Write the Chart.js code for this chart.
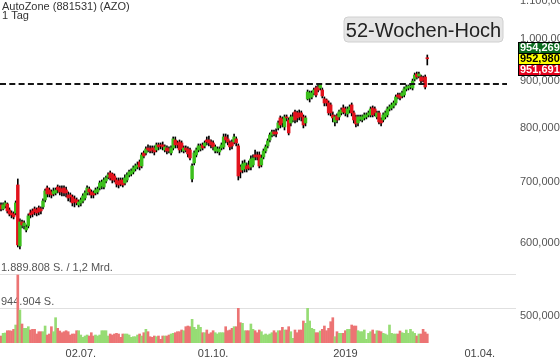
<!DOCTYPE html>
<html>
<head>
<meta charset="utf-8">
<script src="https://cdn.jsdelivr.net/npm/chart.js@4.4.1/dist/chart.umd.min.js"></script>
<style>
  html, body { margin: 0; padding: 0; background: #fff; }
  #chart { display: block; }
</style>
</head>
<body>
<canvas id="chart" width="560" height="363"></canvas>
<script>
// daily candles, AutoZone (AZO), index 0 = first trading day shown
const openP = [
  660.4, 653.8, 658.7, 662.0, 652.2, 647.3, 645.7, 647.3, 694.2, 596.0,
  632.9, 626.6, 620.3, 626.6, 647.3, 650.6, 653.8, 652.2, 655.5, 653.8,
  657.1, 668.7, 689.0, 685.6, 682.2, 678.8, 680.5, 690.7, 689.0, 687.3,
  689.0, 685.6, 677.1, 677.1, 673.7, 670.4, 668.7, 660.4, 663.7, 667.0,
  672.0, 680.5, 687.3, 682.2, 680.5, 680.5, 682.2, 689.0, 692.5, 690.7,
  701.2, 708.2, 715.4, 713.6, 710.0, 702.9, 701.2, 702.9, 702.9, 697.7,
  702.9, 711.8, 713.6, 717.1, 722.6, 726.2, 735.3, 728.0, 752.1, 752.1,
  761.5, 759.6, 761.5, 761.5, 757.7, 767.3, 767.3, 767.3, 757.7, 761.5,
  759.6, 752.1, 761.5, 776.9, 771.1, 773.0, 771.1, 755.8, 761.5, 759.6,
  757.7, 704.7, 733.5, 748.3, 757.7, 759.6, 767.3, 765.4, 776.9, 776.9,
  773.0, 771.1, 755.8, 755.8, 754.0, 761.5, 763.5, 782.8, 778.9, 771.1,
  773.0, 773.0, 778.9, 765.4, 726.2, 720.7, 722.6, 728.0, 729.8, 726.2,
  729.8, 748.3, 748.3, 748.3, 729.8, 744.6, 755.8, 765.4, 776.9, 786.7,
  792.6, 792.6, 800.6, 820.9, 818.8, 802.6, 822.9, 816.7, 810.6, 816.7,
  833.3, 831.2, 831.2, 831.2, 822.9, 810.6, 860.8, 862.9, 865.1, 873.7,
  884.7, 886.9, 884.7, 880.3, 860.8, 858.6, 852.2, 848.0, 827.0, 812.7,
  825.0, 822.9, 831.2, 841.6, 839.5, 829.1, 837.4, 848.0, 831.2, 822.9,
  810.6, 818.8, 816.7, 820.9, 822.9, 827.0, 827.0, 841.6, 839.5, 822.9,
  831.2, 816.7, 816.7, 822.9, 827.0, 839.5, 841.6, 845.9, 852.2, 869.4,
  869.4, 867.2, 869.4, 882.5, 884.7, 886.9, 884.7, 904.8, 916.2, 911.6,
  909.4, 907.1, 909.4, 954.3
];
const highP = [
  663.7, 663.7, 667.0, 663.7, 655.5, 650.6, 649.0, 667.0, 704.7, 637.7,
  636.0, 634.5, 628.2, 645.7, 652.2, 653.8, 657.1, 655.5, 658.7, 657.1,
  670.4, 687.3, 692.5, 689.0, 685.6, 689.0, 689.0, 694.2, 692.5, 692.5,
  692.5, 690.7, 682.2, 680.5, 677.1, 675.4, 672.0, 668.7, 672.0, 678.8,
  683.9, 692.5, 690.7, 685.6, 683.9, 689.0, 690.7, 701.2, 702.9, 706.5,
  710.0, 715.4, 718.9, 715.4, 713.6, 706.5, 706.5, 706.5, 706.5, 711.8,
  715.4, 720.7, 722.6, 728.0, 731.7, 735.3, 739.0, 752.1, 755.8, 763.5,
  767.3, 765.4, 765.4, 765.4, 771.1, 771.1, 771.1, 773.0, 767.3, 765.4,
  763.5, 765.4, 782.8, 782.8, 775.0, 776.9, 775.0, 765.4, 765.4, 763.5,
  761.5, 731.7, 755.8, 761.5, 769.2, 769.2, 771.1, 775.0, 782.8, 784.7,
  776.9, 775.0, 767.3, 763.5, 763.5, 771.1, 788.6, 788.6, 786.7, 775.0,
  776.9, 788.6, 782.8, 769.2, 729.8, 737.2, 739.0, 733.5, 737.2, 746.5,
  748.3, 757.7, 754.0, 754.0, 748.3, 759.6, 767.3, 778.9, 790.6, 796.5,
  796.5, 798.6, 814.7, 825.0, 822.9, 827.0, 827.0, 820.9, 827.0, 831.2,
  837.4, 835.3, 837.4, 835.3, 827.0, 825.0, 880.3, 878.1, 878.1, 884.7,
  889.1, 891.4, 893.6, 884.7, 865.1, 860.8, 856.5, 852.2, 833.3, 827.0,
  829.1, 837.4, 841.6, 848.0, 843.8, 843.8, 848.0, 852.2, 835.3, 827.0,
  827.0, 827.0, 827.0, 831.2, 831.2, 835.3, 843.8, 845.9, 843.8, 835.3,
  835.3, 820.9, 831.2, 835.3, 843.8, 848.0, 852.2, 856.5, 869.4, 873.7,
  873.7, 878.1, 886.9, 891.4, 891.4, 891.4, 904.8, 918.5, 920.8, 920.8,
  913.9, 911.6, 913.9, 960.8
];
const lowP = [
  650.6, 652.2, 655.5, 647.3, 642.5, 639.3, 637.7, 644.1, 594.5, 591.6,
  623.5, 621.9, 617.3, 623.5, 639.3, 640.9, 644.1, 642.5, 644.1, 645.7,
  653.8, 665.3, 673.7, 673.7, 672.0, 675.4, 677.1, 680.5, 677.1, 675.4,
  675.4, 673.7, 667.0, 665.3, 658.7, 657.1, 660.4, 657.1, 658.7, 663.7,
  668.7, 677.1, 677.1, 672.0, 672.0, 677.1, 678.8, 685.6, 687.3, 687.3,
  697.7, 704.7, 702.9, 697.7, 699.4, 690.7, 689.0, 692.5, 690.7, 694.2,
  699.4, 708.2, 710.0, 713.6, 718.9, 722.6, 720.7, 724.4, 742.7, 748.3,
  754.0, 752.1, 752.1, 748.3, 754.0, 757.7, 759.6, 757.7, 754.0, 750.2,
  752.1, 748.3, 757.7, 761.5, 761.5, 752.1, 754.0, 752.1, 754.0, 744.6,
  739.0, 699.4, 729.8, 744.6, 754.0, 755.8, 757.7, 761.5, 767.3, 765.4,
  761.5, 757.7, 752.1, 752.1, 748.3, 757.7, 759.6, 771.1, 767.3, 757.7,
  759.6, 769.2, 765.4, 702.9, 706.5, 715.4, 717.1, 717.1, 720.7, 720.7,
  726.2, 739.0, 739.0, 724.4, 726.2, 740.9, 752.1, 761.5, 773.0, 782.8,
  784.7, 782.8, 796.5, 800.6, 802.6, 796.5, 814.7, 786.7, 804.6, 812.7,
  810.6, 812.7, 816.7, 814.7, 800.6, 804.6, 858.6, 854.3, 860.8, 869.4,
  865.1, 875.9, 880.3, 862.9, 845.9, 845.9, 827.0, 825.0, 812.7, 804.6,
  810.6, 816.7, 827.0, 829.1, 825.0, 822.9, 831.2, 825.0, 810.6, 802.6,
  804.6, 814.7, 812.7, 816.7, 818.8, 822.9, 822.9, 822.9, 825.0, 818.8,
  808.6, 804.6, 812.7, 818.8, 822.9, 835.3, 837.4, 841.6, 848.0, 860.8,
  858.6, 862.9, 865.1, 878.1, 880.3, 882.5, 880.3, 900.3, 904.8, 907.1,
  895.8, 898.1, 882.5, 937.1
];
const closeP = [
  653.8, 660.4, 663.7, 650.6, 645.7, 644.1, 640.9, 663.7, 597.5, 632.9,
  628.2, 631.3, 625.0, 642.5, 644.1, 645.7, 649.0, 647.3, 649.0, 650.6,
  667.0, 683.9, 678.8, 678.8, 677.1, 683.9, 685.6, 685.6, 682.2, 682.2,
  680.5, 680.5, 672.0, 673.7, 663.7, 665.3, 663.7, 665.3, 668.7, 675.4,
  680.5, 689.0, 682.2, 677.1, 677.1, 685.6, 687.3, 697.7, 699.4, 702.9,
  706.5, 711.8, 706.5, 702.9, 702.9, 695.9, 694.2, 695.9, 694.2, 706.5,
  711.8, 717.1, 718.9, 724.4, 728.0, 729.8, 726.2, 748.3, 746.5, 759.6,
  757.7, 755.8, 757.7, 754.0, 767.3, 763.5, 765.4, 763.5, 763.5, 755.8,
  755.8, 761.5, 778.9, 767.3, 767.3, 757.7, 759.6, 761.5, 757.7, 750.2,
  742.7, 728.0, 752.1, 757.7, 765.4, 765.4, 761.5, 771.1, 773.0, 771.1,
  767.3, 763.5, 763.5, 759.6, 759.6, 767.3, 782.8, 776.9, 773.0, 763.5,
  765.4, 782.8, 771.1, 710.0, 717.1, 731.7, 733.5, 722.6, 724.4, 740.9,
  742.7, 744.6, 744.6, 728.0, 742.7, 755.8, 763.5, 775.0, 786.7, 792.6,
  788.6, 788.6, 810.6, 806.6, 810.6, 822.9, 820.9, 790.6, 822.9, 822.9,
  816.7, 820.9, 822.9, 822.9, 806.6, 820.9, 875.9, 873.7, 873.7, 880.3,
  869.4, 880.3, 891.4, 867.2, 852.2, 852.2, 831.2, 831.2, 820.9, 822.9,
  816.7, 833.3, 837.4, 833.3, 831.2, 839.5, 843.8, 831.2, 816.7, 808.6,
  822.9, 822.9, 822.9, 827.0, 827.0, 831.2, 839.5, 827.0, 831.2, 831.2,
  812.7, 810.6, 827.0, 831.2, 839.5, 843.8, 848.0, 852.2, 865.1, 865.1,
  862.9, 873.7, 882.5, 886.9, 889.1, 889.1, 900.3, 913.9, 909.4, 916.2,
  900.3, 902.6, 886.9, 951.7
];
// shares traded per day
const volume = [
  194500, 269600, 277900, 341800, 341800, 333500, 380700, 500200, 1889808, 917100,
  528000, 408500, 408500, 453000, 361300, 380700, 380700, 250100, 314000, 314000,
  314000, 472400, 222300, 250100, 453000, 314000, 703100, 408500, 333500, 286200,
  314000, 341800, 314000, 222300, 250100, 250100, 341800, 341800, 222300, 158400,
  194500, 222300, 194500, 286200, 194500, 222300, 194500, 222300, 341800, 341800,
  341800, 194500, 250100, 222300, 250100, 269600, 250100, 158400, 250100, 250100,
  250100, 222300, 158400, 175100, 175100, 222300, 250100, 194500, 286200, 380700,
  314000, 175100, 158400, 194500, 175100, 194500, 102800, 194500, 194500, 194500,
  222300, 250100, 269600, 286200, 314000, 314000, 361300, 341800, 453000, 472400,
  453000, 658600, 436300, 380700, 500200, 436300, 286200, 286200, 361300, 250100,
  286200, 341800, 286200, 250100, 286200, 286200, 286200, 453000, 341800, 361300,
  408500, 453000, 453000, 964300, 564200, 547500, 341800, 341800, 341800, 528000,
  380700, 341800, 286200, 361300, 314000, 222300, 250100, 222300, 250100, 286200,
  341800, 286200, 341800, 341800, 436300, 361300, 361300, 453000, 314000, 130600,
  361300, 286200, 361300, 361300, 611400, 547500, 964300, 611400, 408500, 380700,
  286200, 286200, 333500, 380700, 472400, 341800, 408500, 591900, 703100, 175100,
  314000, 269600, 269600, 269600, 341800, 380700, 380700, 500200, 472400, 472400,
  341800, 314000, 314000, 361300, 102800, 269600, 314000, 361300, 250100, 341800,
  333500, 314000, 269600, 250100, 222300, 500200, 269600, 250100, 250100, 250100,
  333500, 286200, 269600, 361300, 269600, 380700, 314000, 269600, 194500, 250100,
  250100, 380700, 305700, 250100
];

const xTickIndex = [38, 101, 164, 228];
const xTickLabels = ['02.07.', '01.10.', '2019', '01.04.'];
const priceTicks = [500, 600, 700, 800, 900, 1000, 1100];
const volumeTicks = [944904, 1889808];
const volumeTickLabels = ['944.904 S.', '1.889.808 S. / 1,2 Mrd.'];
const prevHigh = 893.6;
const quoteValues = [954.269, 952.980, 951.691];

const FONT = '"Liberation Sans", Arial, sans-serif';
const GREEN = '#3cbf1c';
const RED = '#e2131d';
const VOL_GREEN = '#96dc74';
const VOL_RED = '#ec7474';

// german number format, 3 decimals
function fmtPrice(v) {
  const parts = v.toFixed(3).split('.');
  return parts[0].replace(/\B(?=(\d{3})+(?!\d))/g, '.') + ',' + parts[1];
}

const idx = openP.map((_, i) => i);
const up = idx.map(i => closeP[i] >= openP[i]);
const bodies = idx.map(i => ({ x: i, y: [openP[i], closeP[i]] }));
const wicks = idx.map(i => ({ x: i, y: [lowP[i], highP[i]] }));
const vols = idx.map(i => ({ x: i, y: volume[i] }));

const overlay = {
  id: 'overlay',
  afterDatasetsDraw(chart) {
    const { ctx, chartArea, scales } = chart;
    const y = Math.round(scales.y.getPixelForValue(prevHigh));
    ctx.save();
    ctx.strokeStyle = '#151515';
    ctx.lineWidth = 2;
    ctx.setLineDash([6, 3.3]);
    ctx.beginPath();
    ctx.moveTo(chartArea.left, y);
    ctx.lineTo(chartArea.right - 9, y);
    ctx.stroke();
    ctx.restore();
  },
  afterDraw(chart) {
    const { ctx, chartArea, scales } = chart;
    ctx.save();
    // title
    ctx.fillStyle = '#333';
    ctx.font = '11px ' + FONT;
    ctx.textAlign = 'left';
    ctx.textBaseline = 'alphabetic';
    ctx.fillText('AutoZone (881531) (AZO)', 2, 10);
    ctx.fillText('1 Tag', 2, 19);

    // 52-Wochen-Hoch box
    const bx = 344, by = 17, bw = 159, bh = 25, r = 4;
    ctx.beginPath();
    ctx.moveTo(bx + r, by);
    ctx.arcTo(bx + bw, by, bx + bw, by + bh, r);
    ctx.arcTo(bx + bw, by + bh, bx, by + bh, r);
    ctx.arcTo(bx, by + bh, bx, by, r);
    ctx.arcTo(bx, by, bx + bw, by, r);
    ctx.closePath();
    ctx.fillStyle = '#e6e6e6';
    ctx.fill();
    ctx.strokeStyle = '#d0d0d0';
    ctx.lineWidth = 1;
    ctx.stroke();
    ctx.fillStyle = '#222';
    ctx.font = '20px ' + FONT;
    ctx.textAlign = 'center';
    ctx.fillText('52-Wochen-Hoch', bx + bw / 2, 37);

    // quote boxes on the price axis
    const h = 11;
    const midY = scales.y.getPixelForValue(quoteValues[1]);
    const fills = ['#0b6b1f', '#ffff00', '#e3001b'];
    const texts = ['#fff', '#000', '#fff'];
    const x0 = chartArea.right + 2;
    ctx.font = 'bold 11px ' + FONT;
    ctx.textAlign = 'left';
    ctx.textBaseline = 'middle';
    quoteValues.forEach((v, k) => {
      const top = Math.round(midY - h / 2 + (k - 1) * h);
      ctx.fillStyle = fills[k];
      ctx.fillRect(x0, top, 60, h);
      ctx.strokeStyle = '#000';
      ctx.strokeRect(x0 + 0.5, top + 0.5, 60, h);
      ctx.fillStyle = texts[k];
      ctx.fillText(fmtPrice(v), x0 + 2, top + h / 2 + 0.5);
    });
    ctx.restore();
  }
};

new Chart(document.getElementById('chart'), {
  type: 'bar',
  data: {
    datasets: [
      {
        label: 'body', data: bodies, xAxisID: 'x', yAxisID: 'y',
        backgroundColor: up.map(u => u ? GREEN : RED),
        barThickness: 2.8, grouped: false, borderWidth: 0, minBarLength: 1
      },
      {
        label: 'wick', data: wicks, xAxisID: 'x', yAxisID: 'y',
        backgroundColor: '#000', barThickness: 1, grouped: false, borderWidth: 0
      },
      {
        label: 'volume', data: vols, xAxisID: 'x', yAxisID: 'yv',
        backgroundColor: up.map(u => u ? VOL_GREEN : VOL_RED),
        barThickness: 2, grouped: false, borderWidth: 0
      }
    ]
  },
  options: {
    responsive: false,
    animation: false,
    events: [],
    layout: { padding: 0 },
    plugins: { legend: { display: false }, tooltip: { enabled: false } },
    scales: {
      x: {
        type: 'linear', bounds: 'data', min: -0.476, max: 245.24, offset: false,
        grid: { display: false, offset: false, drawTicks: false }, border: { display: false },
        afterBuildTicks: s => { s.ticks = xTickIndex.map(v => ({ value: v })); },
        ticks: {
          autoSkip: false, maxRotation: 0, padding: 4, color: '#444',
          font: { size: 11, family: FONT },
          callback: (v, i) => xTickLabels[i]
        },
        afterFit: s => { s.height = 20; s.paddingLeft = 0; s.paddingRight = 0; }
      },
      y: {
        type: 'logarithmic', position: 'right', bounds: 'data',
        min: 467.6, max: 1102.4,
        grid: { display: false, drawTicks: false }, border: { display: false },
        afterBuildTicks: s => { s.ticks = priceTicks.map(v => ({ value: v })); },
        ticks: {
          autoSkip: false, padding: 4, color: '#555',
          font: { size: 11, family: FONT },
          callback: v => fmtPrice(v)
        },
        afterFit: s => { s.width = 44; s.paddingTop = 0; s.paddingBottom = 0; }
      },
      yv: {
        type: 'linear', position: 'left', bounds: 'data', min: 0, max: 9532000,
        grid: { color: '#e0e0e0', lineWidth: 1, drawTicks: false },
        border: { display: false },
        afterBuildTicks: s => { s.ticks = volumeTicks.map(v => ({ value: v })); },
        ticks: {
          autoSkip: false, mirror: true, padding: 1, labelOffset: -7, color: '#555',
          font: { size: 11, family: FONT },
          callback: (v, i) => volumeTickLabels[i]
        },
        afterFit: s => { s.width = 0; s.paddingTop = 0; s.paddingBottom = 0; }
      }
    }
  },
  plugins: [overlay]
});
</script>
</body>
</html>
